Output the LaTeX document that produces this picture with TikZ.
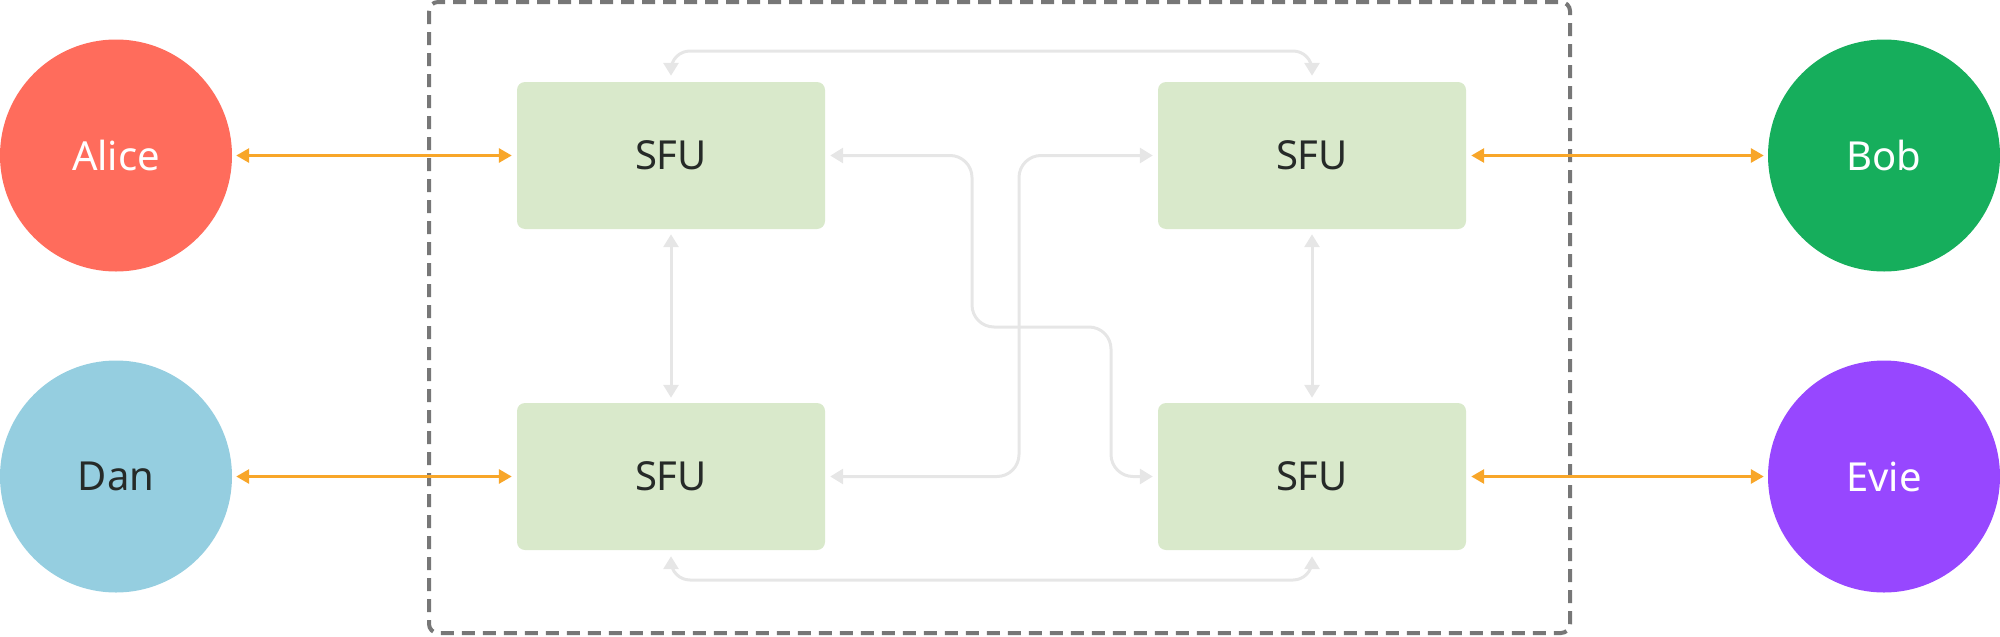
\documentclass[tikz,border=0pt]{standalone}
\usepackage{fontspec}
\setmainfont{Noto Sans}
\usetikzlibrary{arrows.meta,calc}
\definecolor{alicec}{HTML}{FF6C5C}
\definecolor{danc}{HTML}{95CEE0}
\definecolor{bobc}{HTML}{16AE5C}
\definecolor{eviec}{HTML}{9747FF}
\definecolor{sfuc}{HTML}{D9E9CB}
\definecolor{orangec}{HTML}{F8A629}
\definecolor{greyc}{HTML}{E6E6E6}
\definecolor{dashc}{HTML}{777777}
\definecolor{textc}{HTML}{262A28}
\tikzset{
  person/.style={circle,minimum size=232pt,inner sep=0pt,font=\fontsize{40}{48}\selectfont},
  sfubox/.style={fill=sfuc,rounded corners=8pt,minimum width=308pt,minimum height=147pt,inner sep=0pt,text=textc,font=\fontsize{40}{48}\selectfont},
  oconn/.style={draw=orangec,line width=3pt,{Triangle[length=13pt,width=14pt]}-{Triangle[length=13pt,width=14pt]}},
  gconn/.style={draw=greyc,line width=3pt,rounded corners=22pt,{Triangle[length=13pt,width=15pt]}-{Triangle[length=13pt,width=15pt]}},
  vconn/.style={draw=greyc,line width=3pt,rounded corners=19pt,{Triangle[length=13pt,width=15pt]}-{Triangle[length=13pt,width=15pt]}},
  frame/.style={draw=dashc,line width=4pt,dash pattern=on 13pt off 8pt,rounded corners=9pt}
}
\begin{document}
\begin{tikzpicture}[x=1pt,y=-1pt]
\useasboundingbox (0,0) rectangle (2000,637);
\draw[frame] (429,2) rectangle (1570,633);
\node[person,fill=alicec,text=white] (alice) at (116,155.5) {Alice};
\node[person,fill=danc,text=textc] (dan) at (116,476.5) {Dan};
\node[person,fill=bobc,text=white] (bob) at (1884,155.5) {Bob};
\node[person,fill=eviec,text=white] (evie) at (1884,476.5) {Evie};
\node[sfubox] (tl) at (671,155.5) {SFU};
\node[sfubox] (tr) at (1312,155.5) {SFU};
\node[sfubox] (bl) at (671,476.5) {SFU};
\node[sfubox] (br) at (1312,476.5) {SFU};
% orange links
\draw[oconn] ([xshift=4pt]alice.east) -- ([xshift=-5pt]tl.west);
\draw[oconn] ([xshift=4pt]dan.east) -- ([xshift=-5pt]bl.west);
\draw[oconn] ([xshift=5pt]tr.east) -- ([xshift=-4pt]bob.west);
\draw[oconn] ([xshift=5pt]br.east) -- ([xshift=-4pt]evie.west);
% vertical links
\draw[gconn] ([yshift=-5pt]tl.south) -- ([yshift=5pt]bl.north);
\draw[gconn] ([yshift=-5pt]tr.south) -- ([yshift=5pt]br.north);
% top and bottom links
\draw[vconn] ([yshift=6pt]tl.north) -- (671,51) -- (1312,51) -- ([yshift=6pt]tr.north);
\draw[vconn] ([yshift=-6pt]bl.south) -- (671,580) -- (1312,580) -- ([yshift=-6pt]br.south);
% crossing links
\draw[gconn] ([xshift=5pt]tl.east) -- (972,155.5) -- (972,327) -- (1111,327) -- (1111,476.5) -- ([xshift=-5pt]br.west);
\draw[gconn] ([xshift=5pt]bl.east) -- (1019,476.5) -- (1019,155.5) -- ([xshift=-5pt]tr.west);
\end{tikzpicture}
\end{document}
